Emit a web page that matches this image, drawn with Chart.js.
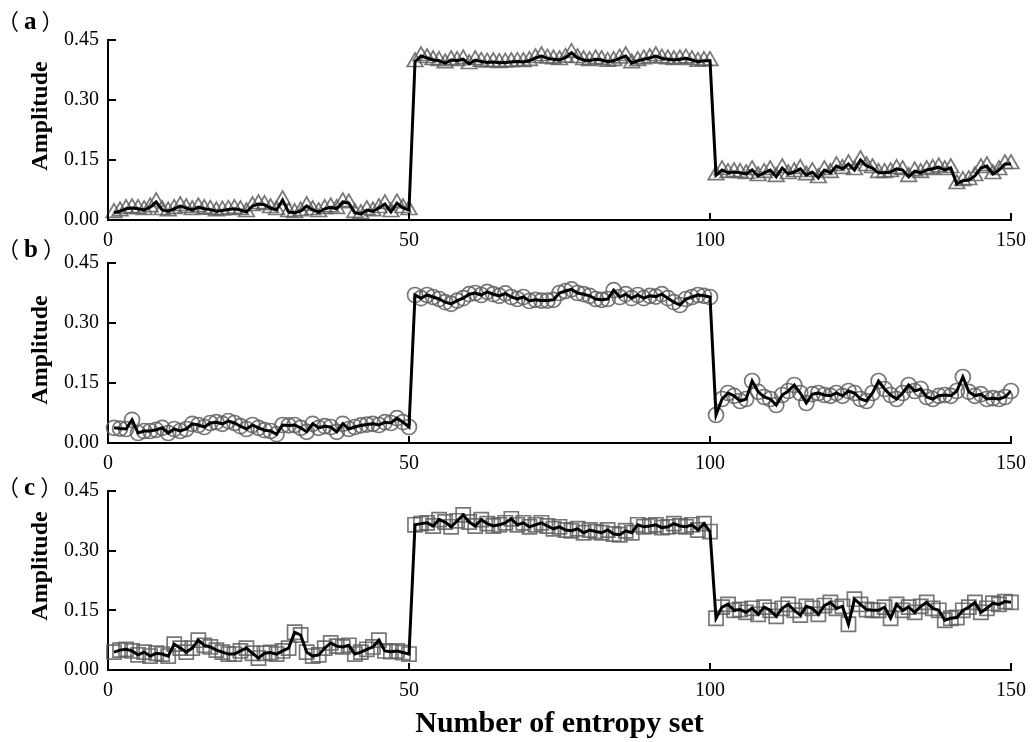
<!DOCTYPE html>
<html><head><meta charset="utf-8">
<script src="https://cdn.jsdelivr.net/npm/chart.js@4/dist/chart.umd.min.js"></script>
<style>
html,body{margin:0;padding:0;background:#fff;}
body{width:1035px;height:742px;position:relative;overflow:hidden;}
canvas{position:absolute;left:0;}
.lbl{position:absolute;font-family:"Liberation Serif",serif;font-weight:bold;font-size:25px;color:#000;line-height:1;white-space:nowrap;}
.lbl .p{font-family:"Noto Sans CJK SC",sans-serif;font-weight:normal;font-size:22px;}
.lbl .t{margin:0 5px 0 5px;}
</style></head><body>
<canvas id="ca" width="1035" height="255" style="top:0px"></canvas>
<canvas id="cb" width="1035" height="250" style="top:235px"></canvas>
<canvas id="cc" width="1035" height="272" style="top:470px"></canvas>
<div class="lbl" style="left:-3px;top:8px"><span class="p">（</span><span class="t">a</span><span class="p">）</span></div>
<div class="lbl" style="left:-3px;top:236px"><span class="p">（</span><span class="t">b</span><span class="p">）</span></div>
<div class="lbl" style="left:-3px;top:474px"><span class="p">（</span><span class="t">c</span><span class="p">）</span></div>
<script>
const xTicks = [0, 50, 100, 150];
const yTicks = [0, 0.15, 0.30, 0.45];

// Panel (a)
const aLow = [0.018,0.022,0.028,0.030,0.028,0.025,0.032,0.045,0.025,0.022,
 0.028,0.035,0.030,0.025,0.032,0.028,0.026,0.022,0.024,0.026,
 0.028,0.025,0.020,0.035,0.040,0.038,0.030,0.025,0.050,0.020,
 0.018,0.022,0.035,0.025,0.020,0.028,0.032,0.028,0.045,0.042,
 0.018,0.015,0.025,0.022,0.030,0.040,0.020,0.042,0.030,0.025];
const aHigh = [0.395,0.410,0.405,0.400,0.398,0.392,0.400,0.398,0.402,0.390,
 0.400,0.396,0.394,0.395,0.393,0.394,0.395,0.396,0.395,0.398,
 0.405,0.410,0.404,0.402,0.400,0.406,0.418,0.405,0.400,0.398,
 0.402,0.400,0.396,0.398,0.404,0.410,0.392,0.398,0.402,0.405,
 0.410,0.404,0.402,0.400,0.402,0.404,0.400,0.396,0.398,0.398];
const aMid = [0.112,0.125,0.118,0.120,0.118,0.115,0.125,0.110,0.118,0.125,
 0.108,0.130,0.115,0.120,0.128,0.112,0.120,0.105,0.125,0.118,
 0.135,0.128,0.140,0.125,0.150,0.135,0.130,0.118,0.118,0.120,
 0.128,0.125,0.108,0.122,0.118,0.125,0.128,0.132,0.125,0.130,
 0.090,0.098,0.100,0.110,0.130,0.135,0.115,0.125,0.140,0.140];

// Panel (b)
const bLow = [0.038,0.036,0.035,0.058,0.025,0.030,0.030,0.033,0.038,0.025,
 0.035,0.030,0.035,0.048,0.045,0.040,0.050,0.052,0.048,0.055,
 0.050,0.042,0.035,0.045,0.038,0.032,0.030,0.022,0.045,0.044,
 0.045,0.038,0.028,0.048,0.038,0.042,0.040,0.028,0.048,0.035,
 0.040,0.044,0.046,0.048,0.045,0.052,0.050,0.062,0.052,0.040];
const bHigh = [0.370,0.362,0.370,0.365,0.360,0.352,0.348,0.356,0.362,0.372,
 0.375,0.370,0.378,0.372,0.368,0.374,0.365,0.360,0.365,0.355,
 0.358,0.356,0.356,0.358,0.375,0.380,0.384,0.375,0.372,0.368,
 0.360,0.358,0.360,0.382,0.365,0.372,0.362,0.370,0.362,0.368,
 0.366,0.372,0.362,0.352,0.345,0.360,0.365,0.370,0.368,0.365];
const bMid = [0.070,0.110,0.125,0.118,0.105,0.110,0.155,0.128,0.115,0.110,
 0.095,0.120,0.130,0.145,0.125,0.100,0.122,0.125,0.120,0.118,
 0.125,0.118,0.130,0.125,0.110,0.105,0.125,0.155,0.135,0.120,
 0.110,0.125,0.145,0.130,0.135,0.115,0.110,0.118,0.120,0.118,
 0.130,0.165,0.128,0.118,0.122,0.110,0.112,0.110,0.115,0.130];

// Panel (c)
const cLow = [0.045,0.050,0.052,0.048,0.038,0.045,0.035,0.042,0.040,0.035,
 0.065,0.055,0.045,0.055,0.075,0.062,0.058,0.050,0.045,0.040,
 0.040,0.048,0.055,0.042,0.030,0.042,0.044,0.040,0.048,0.055,
 0.095,0.088,0.045,0.035,0.038,0.055,0.068,0.060,0.058,0.062,
 0.040,0.045,0.052,0.058,0.075,0.048,0.046,0.048,0.044,0.040];
const cHigh = [0.365,0.368,0.370,0.362,0.378,0.372,0.360,0.375,0.390,0.372,
 0.362,0.378,0.368,0.362,0.365,0.370,0.380,0.365,0.370,0.360,
 0.365,0.370,0.362,0.355,0.360,0.352,0.350,0.355,0.345,0.352,
 0.348,0.345,0.352,0.342,0.340,0.350,0.345,0.365,0.360,0.362,
 0.365,0.358,0.360,0.368,0.362,0.360,0.365,0.352,0.368,0.348];
const cMid = [0.130,0.158,0.165,0.150,0.152,0.145,0.155,0.140,0.158,0.150,
 0.135,0.155,0.165,0.150,0.138,0.160,0.155,0.140,0.162,0.170,
 0.155,0.160,0.115,0.178,0.165,0.152,0.150,0.150,0.158,0.130,
 0.165,0.150,0.158,0.145,0.160,0.170,0.155,0.150,0.125,0.130,
 0.132,0.150,0.158,0.170,0.145,0.155,0.168,0.165,0.172,0.170];

const SERIF = '"Liberation Serif", "Times New Roman", serif';

function toPoints(...parts) {
  const vals = [].concat(...parts);
  return vals.map((v, i) => ({x: i + 1, y: v}));
}

const inwardTicks = {
  id: 'inwardTicks',
  afterDraw(chart, args, opts) {
    const {ctx, chartArea: a, scales: {x, y}} = chart;
    ctx.save();
    ctx.strokeStyle = '#000';
    ctx.lineWidth = 2;
    xTicks.forEach(v => {
      const px = Math.round(x.getPixelForValue(v));
      ctx.beginPath(); ctx.moveTo(px, a.bottom); ctx.lineTo(px, a.bottom - 7); ctx.stroke();
    });
    yTicks.forEach(v => {
      const py = Math.round(y.getPixelForValue(v));
      ctx.beginPath(); ctx.moveTo(a.left, py); ctx.lineTo(a.left + 8, py); ctx.stroke();
    });
    // y-axis title
    ctx.translate(opts.titleX, opts.titleY);
    ctx.rotate(-Math.PI / 2);
    ctx.fillStyle = '#000';
    ctx.font = 'bold 24px ' + SERIF;
    ctx.textAlign = 'center';
    ctx.textBaseline = 'middle';
    ctx.fillText('Amplitude', 0, 0);
    ctx.restore();
  }
};

function makeChart(id, pts, style, radius, padTop, xHeight, xTitle, titleY) {
  new Chart(document.getElementById(id), {
    type: 'line',
    data: {
      datasets: [
        {
          data: pts, order: 0, borderColor: '#000', borderWidth: 3,
          pointRadius: 0, tension: 0, fill: false
        },
        {
          data: pts, order: 1, showLine: false, pointStyle: style,
          pointRadius: radius, pointBorderColor: 'rgba(95,95,95,0.85)',
          pointBackgroundColor: 'rgba(0,0,0,0)', pointBorderWidth: 1.7, clip: 12
        }
      ]
    },
    options: {
      responsive: false, animation: false, events: [],
      layout: {padding: {top: padTop, right: 19, left: 0, bottom: 0}},
      plugins: {legend: {display: false}, tooltip: {enabled: false},
        inwardTicks: {titleX: 41, titleY: titleY}},
      scales: {
        x: {
          type: 'linear', min: 0, max: 150,
          afterBuildTicks: s => { s.ticks = xTicks.map(v => ({value: v})); },
          afterFit: s => { s.height = xHeight; },
          grid: {display: true, drawOnChartArea: false, drawTicks: false},
          border: {display: true, color: '#000', width: 2},
          ticks: {padding: 9, color: '#000', font: {family: SERIF, size: 20}, maxRotation: 0},
          title: xTitle ? {display: true, text: xTitle, color: '#000',
            font: {family: SERIF, size: 30, weight: 'bold'}, padding: {top: 0, bottom: 0}} : {display: false}
        },
        y: {
          type: 'linear', min: 0, max: 0.45,
          afterBuildTicks: s => { s.ticks = yTicks.map(v => ({value: v})); },
          afterFit: s => { s.width = 108; },
          grid: {display: true, drawOnChartArea: false, drawTicks: false},
          border: {display: true, color: '#000', width: 2},
          ticks: {padding: 9, color: '#000', font: {family: SERIF, size: 20},
            callback: v => Number(v).toFixed(2)},
          title: {display: false}
        }
      }
    },
    plugins: [inwardTicks]
  });
}

makeChart('ca', toPoints(aLow, aHigh, aMid), 'triangle', 9, 40, 35, null, 116);
makeChart('cb', toPoints(bLow, bHigh, bMid), 'circle', 7.5, 28, 42, null, 115);
makeChart('cc', toPoints(cLow, cHigh, cMid), 'rect', 10, 20, 72, 'Number of entropy set', 96);
</script>
</body></html>
